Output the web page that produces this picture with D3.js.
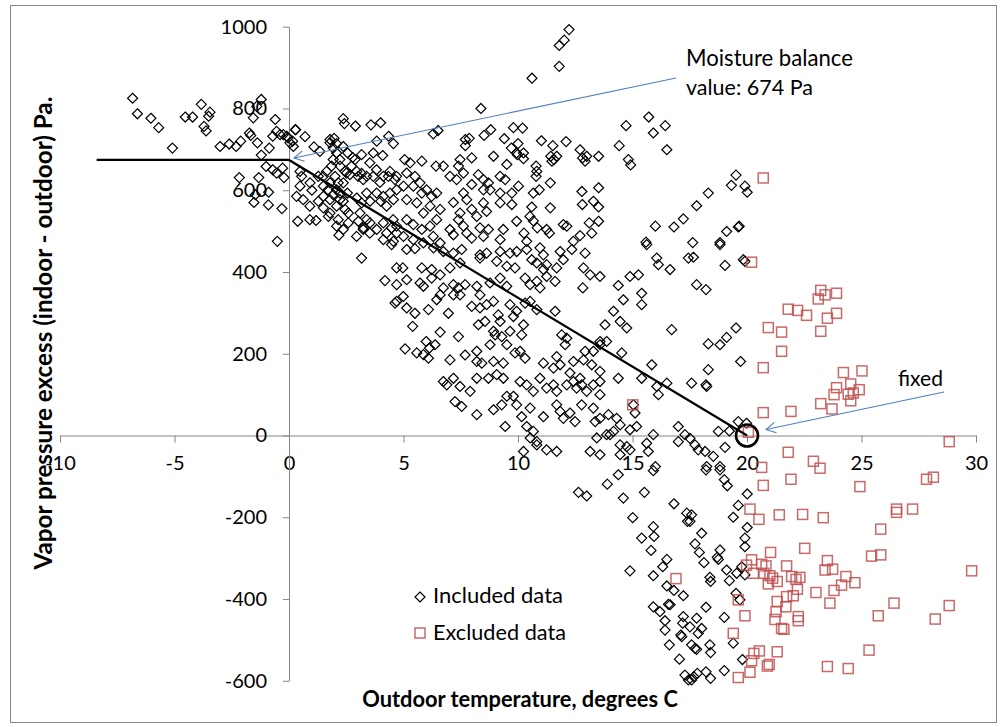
<!DOCTYPE html>
<html><head><meta charset="utf-8">
<script src="https://cdn.jsdelivr.net/npm/d3@7"></script>
<style>
html,body{margin:0;padding:0;background:#fff;}
svg{display:block;font-family:Lato,"Open Sans",sans-serif;}
</style></head><body>
<svg id="chart" width="1002" height="727"></svg>
<script>
// Axis ticks
const xTicks = [-10, -5, 0, 5, 10, 15, 20, 25, 30];
const yTicks = [-600, -400, -200, 0, 200, 400, 600, 800, 1000];

// Fitted broken line: flat at the moisture balance value, then falling to zero at 20 °C
const moistureBalance = 674;
const fitTemp = [-8.4, 0, 20];
const fitVapor = [moistureBalance, moistureBalance, 0];
const fixedPoint = [20, 0];

// Included measurements [outdoor temperature °C, vapour pressure excess Pa]
const included = [
[-6.83,825],[-6.62,787],[-6.03,776],[-5.69,753],[-5.09,703],[-4.53,779],[-4.21,779],[-3.83,810],[-3.45,791],[-3.51,781],
[-3.71,756],[-3.62,745],[-3.01,707],[-2.61,713],[-2.31,707],[-2.11,720],[-1.73,740],[-1.67,734],[-1.56,777],[-1.21,822],
[-1.41,805],[-1.38,716],[-1.21,686],[-0.86,703],[-1.0,658],[-0.71,650],[-0.54,642],[-0.28,654],[-0.22,631],[-0.6,773],
[-0.54,744],[-0.71,732],[-0.39,736],[-0.1,732],[0.04,716],[0.19,707],[0.28,748],[-2.17,631],[-1.32,631],[-1.47,589],
[-0.89,595],[-1.53,570],[-0.9,564],[-0.31,555],[-0.51,475],[0.38,524],[1.18,526],[2.18,490],
[2.37,775],[2.42,763],[2.9,757],[3.58,760],[4.0,765],[0.29,748],[0.7,731],[-0.25,736],[-0.04,728],[0.16,720],
[1.09,706],[1.35,695],[1.79,724],[1.97,727],[2.08,714],[2.37,707],[2.56,691],[2.78,680],[3.17,687],[3.68,691],
[4.09,685],[4.56,714],[4.35,732],[3.83,720],[1.93,675],[2.23,659],[2.45,646],[2.66,638],[2.96,646],[3.17,641],
[3.39,634],[3.68,634],[3.97,619],[4.34,634],[4.63,626],[1.5,634],[1.79,618],[2.08,601],[2.37,618],[2.55,593],
[0.48,646],[0.55,634],[0.92,618],[1.0,600],[1.28,634],[1.5,585],[1.79,577],[2.08,561],[2.23,593],[2.37,573],
[2.45,553],[2.59,544],[2.96,581],[3.17,569],[3.39,593],[3.54,573],[3.83,593],[4.0,573],[4.26,561],[4.56,577],
[1.72,536],[2.15,528],[2.59,520],[3.03,524],[3.25,508],[3.54,520],[3.83,504],[4.12,520],[4.48,508],[4.7,495],
[4.56,475],[3.17,434],[4.19,379],[4.7,410],[4.7,369],[4.7,328],[4.63,324],[4.48,467],
[1.79,716],[1.93,703],[2.08,691],[2.22,675],[1.86,659],[1.64,646],[2.01,634],[2.15,618],[1.5,610],[1.71,601],
[1.93,589],[2.22,577],[2.51,642],[2.73,659],[2.88,675],[3.02,634],[3.24,626],[3.53,667],[3.82,650],[4.12,634],
[4.41,646],[4.7,634],[4.7,601],[4.41,593],[4.12,585],[4.55,528],[4.26,495],[4.7,512],[3.1,544],[3.39,528],
[3.24,504],[3.53,495],[4.12,479],[2.37,504],[2.95,487],[2.08,512],[1.79,544],[1.5,557],[1.28,573],[0.91,561],
[0.62,577],[0.91,528],[0.48,610],[0.33,585],
[12.23,993],[12.02,967],[11.8,954],[11.8,903],[10.61,874],[8.38,800],[6.3,738],[6.51,746],[7.7,724],[7.87,727],
[7.7,709],[8.52,734],[8.81,748],[9.4,726],[9.8,753],[10.2,752],[9.71,703],[10.0,714],[10.24,677],[9.97,687],
[11.02,721],[11.52,709],[12.1,719],[11.43,683],[11.57,675],[11.69,683],[11.48,671],[12.71,699],[12.82,679],[13.0,683],
[12.93,671],[13.52,683],[14.42,709],[14.72,758],[15.71,779],[16.43,758],[15.91,740],[16.5,699],[14.82,675],[14.92,662],
[10.79,659],[10.82,646],[10.79,634],[11.41,618],[10.67,593],[10.93,601],[12.79,597],[13.52,606],[13.29,573],[13.52,559],
[12.81,565],[10.6,559],[10.52,536],[10.67,525],[10.84,508],[11.41,557],[11.25,504],[11.37,495],[11.98,516],[12.13,512],
[10.26,495],[10.38,475],[13.11,520],[13.52,524],[13.22,495],[12.71,489],[12.42,475],[16.0,512],[16.81,510],[17.22,530],
[15.59,473],
[5.05,675],[5.29,667],[5.14,642],[5.5,634],[5.0,610],[5.43,610],[5.72,618],[5.8,593],[5.14,577],[5.58,569],
[6.01,601],[6.23,585],[6.45,593],[6.16,561],[5.87,544],[5.14,528],[5.43,516],[5.8,504],[6.16,512],[6.45,528],
[6.6,553],[5.0,487],[5.43,479],[5.87,471],[6.3,487],[5.8,671],[6.42,659],[6.74,659],[7.03,634],[7.32,626],
[7.47,675],[7.4,659],[7.62,642],[7.98,679],[8.27,638],[8.49,626],[8.71,618],[8.93,683],[9.22,634],[9.44,626],
[9.51,663],[10.02,610],[9.73,593],[9.22,593],[8.78,601],[8.49,601],[7.98,614],[7.62,593],[7.76,577],[7.18,570],
[7.98,553],[8.2,536],[8.49,569],[8.63,548],[7.47,544],[7.4,528],[7.62,512],[7.76,495],[7.98,483],[7.03,504],
[7.18,491],[8.34,508],[8.71,504],[9.22,569],[9.73,565],[9.36,504],[9.94,524],[9.22,479],[8.49,487],[6.6,471],
[10.24,691],[9.94,691],
[5.14,455],[5.5,457],[6.31,459],[6.74,450],[7.18,446],[7.54,455],[8.34,442],[8.63,446],[9.22,450],[9.65,446],
[9.94,450],[10.38,455],[10.96,459],[11.11,442],[11.84,450],[12.35,455],[12.93,446],[15.62,467],[16.06,434],[17.44,434],
[4.97,410],[5.8,410],[6.23,406],[6.6,393],[7.03,410],[7.47,422],[8.34,434],[9.07,426],[9.51,414],[9.87,410],
[10.6,430],[10.82,422],[11.25,418],[11.11,406],[11.98,430],[11.69,410],[12.86,410],[13.15,393],[13.58,389],[14.89,389],
[15.26,393],[16.13,418],[16.64,406],
[5.14,381],[5.72,373],[5.87,365],[6.23,385],[6.74,361],[7.18,369],[7.4,361],[7.69,369],[8.2,365],[8.78,373],
[9.22,385],[9.51,365],[10.31,385],[10.82,377],[10.96,361],[11.62,377],[10.53,369],[11.25,389],[12.83,361],[14.38,367],
[15.4,348],
[4.99,340],[5.14,312],[5.5,299],[6.09,308],[6.45,332],[6.6,344],[6.96,299],[7.18,344],[7.47,344],[7.98,316],
[8.34,312],[8.63,320],[8.93,328],[9.14,295],[8.34,344],[9.65,320],[9.94,304],[10.31,324],[10.53,328],[11.62,304],
[10.82,308],[14.6,332],[14.17,304],[15.4,320],
[5.4,267],[6.6,253],[7.4,242],[8.27,271],[8.56,279],[8.93,255],[9.22,279],[9.8,291],[10.24,271],[9.65,255],
[13.8,271],[14.46,279],[14.75,263],[16.71,259],
[5.07,212],[5.58,202],[5.87,198],[6.13,214],[6.38,222],[5.99,230],[8.2,206],[8.78,222],[9.0,246],[9.29,242],
[9.51,222],[9.87,202],[10.16,246],[10.09,206],[11.91,246],[12.13,238],[12.06,222],[12.93,206],[13.29,206],[13.58,230],
[13.87,230],[13.58,222],[14.53,202],
[6.09,189],[7.03,185],[7.69,197],[8.2,181],[8.42,177],[8.93,181],[9.36,177],[10.31,189],[11.11,177],[11.69,193],
[11.84,173],[12.42,181],[12.86,185],[13.22,173],[13.58,157],[12.27,153],[12.71,140],[11.55,165],[14.38,140],[15.4,140],
[15.84,173],[16.5,128],
[6.74,132],[6.89,124],[7.18,140],[7.47,120],[7.91,108],[8.2,140],[8.71,140],[9.07,149],[9.36,140],[10.09,132],
[10.38,124],[10.67,108],[10.96,140],[11.25,116],[11.55,124],[11.69,108],[12.13,124],[12.42,132],[12.56,116],[12.78,124],
[13.0,108],[13.29,124],[13.58,132],[13.58,100],[9.8,96],[9.51,96],[16.13,100],[16.06,120],
[7.25,83],[7.54,71],[8.2,51],[8.93,63],[9.29,75],[9.94,75],[10.53,67],[10.16,46],[11.11,46],[11.69,75],
[11.84,59],[11.98,42],[12.27,55],[12.49,34],[12.78,75],[13.29,67],[13.58,42],[13.37,34],[13.95,51],[14.31,42],
[14.46,26],[14.17,10],[15.04,75],[15.11,55],[14.89,14],[15.18,22],[9.44,22],[10.38,22],[10.67,10],[17.0,22],
[10.53,-6],[10.82,-15],[10.82,-23],[10.24,-39],[11.25,-35],[11.69,-39],[13.15,-39],[13.44,-6],[13.58,-47],[13.87,2],
[14.02,2],[14.46,-23],[14.75,-27],[14.46,-47],[14.89,-35],[15.62,-19],[15.69,-39],[15.91,2],[17.0,-15],[17.29,2],
[16.0,-76],
[19.52,637],[19.32,612],[19.91,610],[20.01,595],[18.31,593],[17.8,562],[19.11,499],[19.62,510],[19.66,512],[18.82,472],
[17.63,472],
[18.82,467],[17.66,436],[19.04,416],[19.84,430],[19.91,426],[17.8,369],[18.21,357],[19.52,263],[19.11,240],[18.82,222],
[18.31,224],[19.72,181],[18.31,161],[18.21,124],[18.24,120],[17.58,128],[19.62,34],[19.98,30],[18.75,10],[19.23,11],
[17.51,-7],[17.73,-23],[17.87,-35],[18.17,-39],[18.53,-51],[19.04,-29],[18.24,-76],[18.82,-76],
[18.21,-84],[18.82,-84],[19.01,-108],[19.14,-123],[20.01,-143],[19.62,-171],[19.4,-200],[20.01,-225],[19.91,-251],[19.91,-272],
[17.58,-194],[17.51,-210],[18.02,-239],[17.73,-265],[17.92,-286],[18.12,-311],[18.82,-280],[18.7,-298],[18.75,-303],[19.11,-329],
[19.23,-355],[19.55,-337],[19.91,-341],[19.77,-321],[18.38,-347],[18.41,-357],[19.52,-386],[19.69,-402],[18.21,-420],[17.8,-447],
[18.02,-472],[17.87,-484],[17.51,-468],[19.01,-445],[19.4,-508],[18.38,-512],[18.41,-531],[17.73,-521],[17.8,-523],[17.58,-512],
[19.8,-548],[19.01,-575],[18.21,-578],[18.41,-594],[17.83,-582],[17.68,-590],[17.58,-598],
[14.38,-96],[13.9,-119],[12.64,-139],[13.0,-148],[15.91,-86],[14.6,-153],[15.52,-139],[16.81,-167],[17.37,-190],[17.4,-210],
[15.01,-201],[15.91,-223],[15.94,-247],[15.4,-251],[15.81,-281],[16.5,-303],[16.32,-321],[14.89,-331],[15.91,-343],[16.5,-368],
[16.81,-379],[17.22,-392],[15.91,-419],[16.2,-431],[16.57,-413],[16.64,-414],[16.42,-453],[16.42,-476],[17.22,-443],[17.19,-459],
[17.11,-488],[17.15,-492],[16.61,-512],[17.05,-547],[17.29,-586],[17.44,-598]
];

// Excluded measurements [outdoor temperature °C, vapour pressure excess Pa]
const excluded = [
[15.01,75],[20.71,630],[20.2,424],[23.22,355],[23.41,344],[23.91,348],[23.11,334],[21.8,309],[22.21,306],[22.6,294],
[23.51,287],[23.91,299],[20.93,264],[21.51,253],[23.22,255],[21.51,206],[20.71,166],[24.21,154],[25.02,158],[23.91,117],
[24.53,126],[23.8,100],[24.42,101],[24.64,104],[24.9,112],[24.53,85],[23.22,78],[23.71,65],[20.71,56],[21.92,59],
[20.06,8],[28.83,-15],[21.8,-41],[22.9,-63],[23.19,-80],[20.64,-78],[21.92,-107],
[20.71,-122],[24.93,-125],[27.84,-107],[28.14,-102],[20.13,-180],[20.52,-205],[21.41,-194],[22.43,-193],[23.33,-201],[26.53,-180],
[26.53,-188],[27.23,-180],[25.84,-229],[21.03,-286],[22.52,-276],[25.44,-295],[25.84,-292],[29.81,-331],
[20.2,-304],[19.98,-317],[20.64,-315],[20.83,-319],[20.28,-337],[20.74,-337],[21.0,-343],[21.12,-349],[20.93,-363],[21.32,-357],
[21.73,-319],[21.95,-345],[22.31,-347],[22.14,-352],[22.2,-376],[21.73,-394],[22.02,-392],[23.01,-384],[23.51,-306],[23.41,-329],
[23.74,-327],[24.32,-345],[24.13,-366],[24.71,-360],[23.8,-379],[23.62,-410],[19.62,-402],[21.32,-406],[21.27,-431],[21.22,-450],
[21.7,-419],[22.24,-443],[22.24,-453],[21.51,-472],[21.61,-474],[19.91,-441],[19.4,-484],[25.73,-441],[26.42,-410],[28.22,-449],
[28.83,-416],[25.33,-525],[20.54,-527],[20.3,-533],[21.32,-529],[20.2,-551],[20.13,-579],[20.97,-560],[20.89,-564],[19.62,-592],
[23.51,-565],[24.42,-570],[16.9,-350]
];

const svg = d3.select("#chart");
const axisGrey = "#868686";
const redMarker = "#c0504d";
const arrowBlue = "#4f81bd";

// Chart frame
svg.append("rect").attr("x", 10.5).attr("y", 5.5).attr("width", 986).attr("height", 717)
  .attr("fill", "#fff").attr("stroke", axisGrey).attr("stroke-width", 1);

const x = d3.scaleLinear().domain([-10, 30]).range([60, 976]);
const y = d3.scaleLinear().domain([-600, 1000]).range([680.8, 26.7]);

// Scale a text element so that it spans a given width
function fitText(sel, width) {
  sel.style("font-size", "20px");
  const w = sel.node().getComputedTextLength();
  sel.style("font-size", (20 * width / w) + "px");
  return sel;
}

// Plain integer labels with an ASCII hyphen for negatives
const plain = d => String(d);

// Axes crossing at the origin
const gx = svg.append("g").attr("transform", `translate(0,${y(0)})`)
  .call(d3.axisBottom(x).tickValues(xTicks).tickFormat(plain).tickSize(7).tickPadding(13).tickSizeOuter(0));
const gy = svg.append("g").attr("transform", `translate(${x(0)},0)`)
  .call(d3.axisLeft(y).tickValues(yTicks).tickFormat(plain).tickSize(6).tickPadding(16).tickSizeOuter(0));
[gx, gy].forEach(g => {
  g.select(".domain").attr("stroke", axisGrey);
  g.selectAll(".tick line").attr("stroke", axisGrey);
  g.selectAll(".tick text").attr("fill", "#000").style("font-size", "20px").style("font-family", "Lato");
});

// Markers
const diamond = "M0,-5L5,0L0,5L-5,0Z";
svg.append("g").selectAll("path").data(included).join("path")
  .attr("d", diamond)
  .attr("transform", d => `translate(${x(d[0])},${y(d[1])})`)
  .attr("fill", "none").attr("stroke", "#000").attr("stroke-width", 1.2);

svg.append("g").selectAll("rect").data(excluded).join("rect")
  .attr("x", d => x(d[0]) - 5).attr("y", d => y(d[1]) - 5)
  .attr("width", 10).attr("height", 10)
  .attr("fill", "none").attr("stroke", redMarker).attr("stroke-width", 1.5).attr("stroke-opacity", 0.85);

// Fitted line and the fixed zero-crossing
const fitPts = fitTemp.map((t, i) => [t, fitVapor[i]]);
svg.append("path").datum(fitPts)
  .attr("d", d3.line().x(d => x(d[0])).y(d => y(d[1])))
  .attr("fill", "none").attr("stroke", "#000").attr("stroke-width", 2.2);

svg.append("circle").attr("cx", x(fixedPoint[0])).attr("cy", y(fixedPoint[1])).attr("r", 11)
  .attr("fill", "none").attr("stroke", "#000").attr("stroke-width", 2.6);

// Annotation arrows with open heads
function arrow(x1, y1, x2, y2) {
  const g = svg.append("g").attr("stroke", arrowBlue).attr("fill", "none").attr("stroke-width", 1.1);
  g.append("line").attr("x1", x1).attr("y1", y1).attr("x2", x2).attr("y2", y2);
  const a = Math.atan2(y1 - y2, x1 - x2), len = 11, spread = 0.5;
  g.append("path").attr("d",
    `M${x2 + len * Math.cos(a + spread)},${y2 + len * Math.sin(a + spread)}L${x2},${y2}L${x2 + len * Math.cos(a - spread)},${y2 + len * Math.sin(a - spread)}`);
}
arrow(676, 78, x(0) + 5, y(moistureBalance) - 2);
arrow(944, 392, x(fixedPoint[0]) + 19, y(fixedPoint[1]) - 6);

// Annotation text
fitText(svg.append("text").attr("x", 686).attr("y", 66).text("Moisture balance"), 167);
fitText(svg.append("text").attr("x", 686).attr("y", 95).text(`value: ${moistureBalance} Pa`), 127);
fitText(svg.append("text").attr("x", 898).attr("y", 386).text("fixed"), 45);

// Legend
const legend = svg.append("g");
legend.append("path").attr("d", diamond).attr("transform", "translate(420,597)")
  .attr("fill", "none").attr("stroke", "#000").attr("stroke-width", 1.2);
fitText(legend.append("text").attr("x", 433).attr("y", 603).text("Included data"), 130);
legend.append("rect").attr("x", 415).attr("y", 628).attr("width", 10).attr("height", 10)
  .attr("fill", "none").attr("stroke", redMarker).attr("stroke-width", 1.5).attr("stroke-opacity", 0.85);
fitText(legend.append("text").attr("x", 433).attr("y", 640).text("Excluded data"), 133);

// Axis titles
fitText(svg.append("text").attr("x", 520).attr("y", 707).attr("text-anchor", "middle")
  .attr("font-weight", "bold").text("Outdoor temperature, degrees C"), 316);
fitText(svg.append("text").attr("transform", "translate(52,333) rotate(-90)").attr("text-anchor", "middle")
  .attr("font-weight", "bold").text("Vapor pressure excess (indoor - outdoor) Pa."), 473);
</script>
</body></html>
